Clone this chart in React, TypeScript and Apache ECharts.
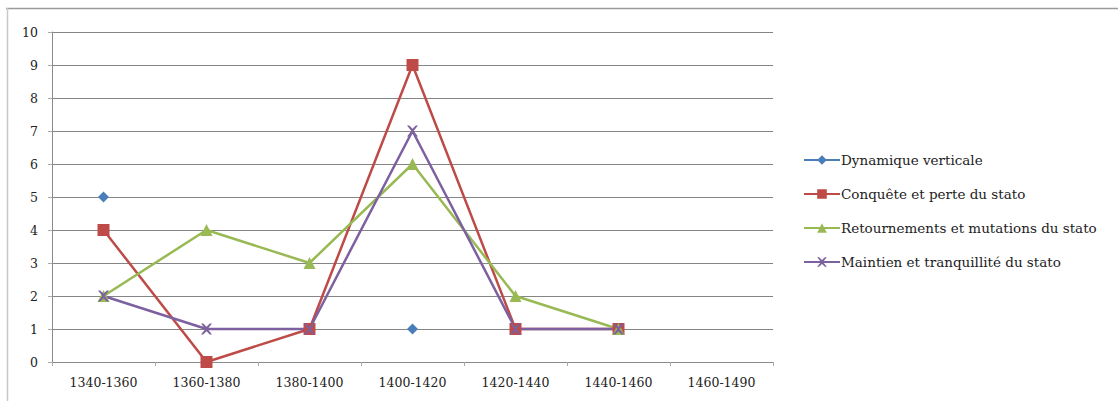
import React, { useEffect, useRef } from "react";
import * as echarts from "echarts";

const categories = ["1340-1360", "1360-1380", "1380-1400", "1400-1420", "1420-1440", "1440-1460", "1460-1490"];
const dynamiqueVerticale = [5, null, null, 1, null, null, null];
const conquete = [4, 0, 1, 9, 1, 1, null];
const retournements = [2, 4, 3, 6, 2, 1, null];
const maintien = [2, 1, 1, 7, 1, 1, null];
const yTicks = [0, 10, 1];

const FONT = "DejaVu Serif";

export default function App() {
  const ref = useRef<HTMLDivElement>(null);
  useEffect(() => {
    if (!ref.current) return;
    const chart = echarts.init(ref.current, null, { renderer: "svg" });
    const mk = (name: string, data: (number | null)[], color: string, symbol: string, size: number) => ({
      name,
      type: "line",
      data,
      symbol,
      symbolSize: size,
      showSymbol: true,
      connectNulls: false,
      lineStyle: { color, width: 2.5 },
      itemStyle: { color },
      emphasis: { disabled: true },
    });
    chart.setOption({
      animation: false,
      textStyle: { fontFamily: FONT },
      grid: { left: 52, top: 32, right: 345, bottom: 39, containLabel: false },
      graphic: [
        { type: "line", shape: { x1: 6, y1: 8.5, x2: 1118, y2: 8.5 }, style: { stroke: "#9a9a9a", lineWidth: 1.5 } },
        { type: "line", shape: { x1: 7.5, y1: 8, x2: 7.5, y2: 401 }, style: { stroke: "#c8c8c8", lineWidth: 1.5 } },
      ],
      legend: {
        orient: "vertical",
        left: 798,
        top: 148,
        itemWidth: 36,
        itemHeight: 12,
        itemGap: 20,
        textStyle: { fontFamily: FONT, fontSize: 13.5, color: "#222", padding: [0, 0, 0, -4] },
        data: ["Dynamique verticale", "Conquête et perte du stato", "Retournements et mutations du stato", "Maintien et tranquillité du stato"],
      },
      xAxis: {
        type: "category",
        data: categories,
        boundaryGap: true,
        axisLine: { lineStyle: { color: "#8a8a8a", width: 1 } },
        axisTick: { show: true, length: 4, lineStyle: { color: "#aaa" } },
        axisLabel: { fontFamily: FONT, fontSize: 12.5, color: "#222", margin: 14 },
        splitLine: { show: false },
      },
      yAxis: {
        type: "value",
        min: yTicks[0],
        max: yTicks[1],
        interval: yTicks[2],
        axisLine: { show: true, lineStyle: { color: "#8a8a8a", width: 1 } },
        axisTick: { show: true, length: 4, lineStyle: { color: "#aaa" } },
        axisLabel: { fontFamily: FONT, fontSize: 12.5, color: "#222", margin: 14 },
        splitLine: { lineStyle: { color: "#858585", width: 1 } },
      },
      series: [
        mk("Dynamique verticale", dynamiqueVerticale, "#4A7EBB", "diamond", 11),
        mk("Conquête et perte du stato", conquete, "#BE4B48", "rect", 12),
        mk("Retournements et mutations du stato", retournements, "#98B954", "triangle", 12),
        mk("Maintien et tranquillité du stato", maintien, "#7D60A0", "path://M0,0L2,0L5,3L8,0L10,0L6,5L10,10L8,10L5,7L2,10L0,10L4,5Z", 11),
      ],
    });
    return () => chart.dispose();
  }, []);
  return <div ref={ref} style={{ position: "absolute", left: 0, top: 0, width: 1118, height: 401 }} />;
}
